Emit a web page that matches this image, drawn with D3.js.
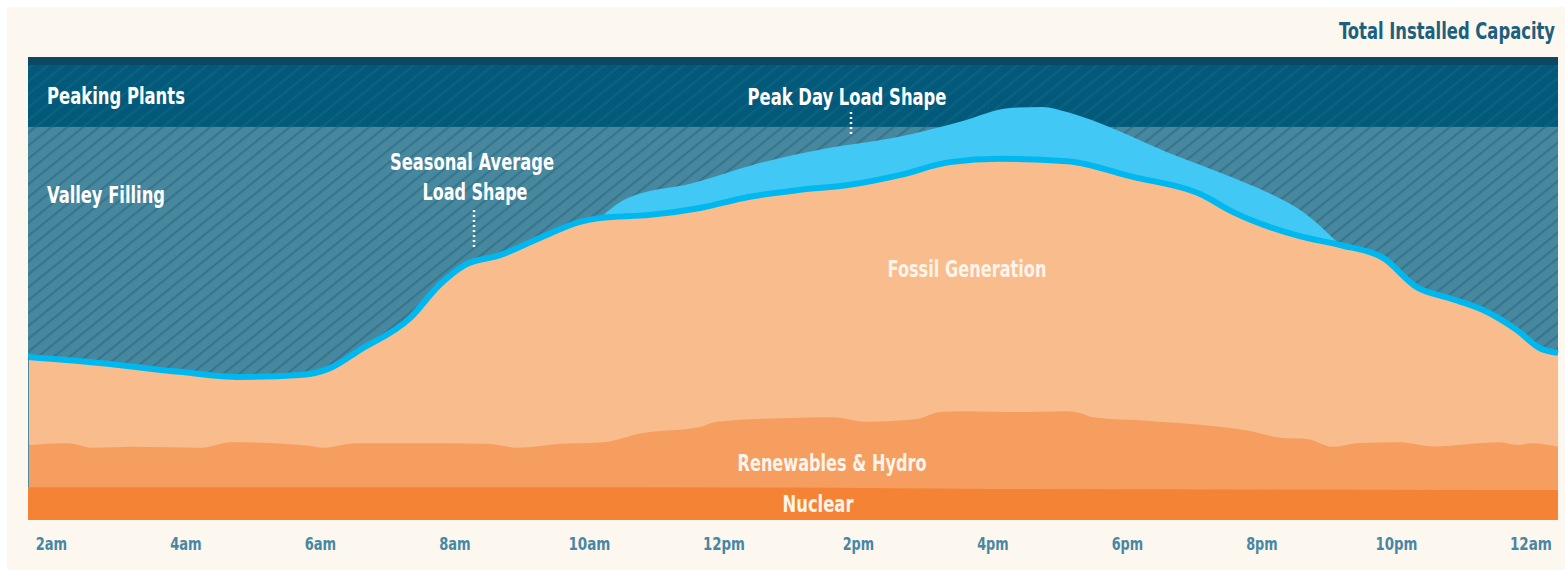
<head>
    <meta charset="utf-8">
    <title>load shape</title>
    <script src="https://d3js.org/d3.v7.min.js"></script>
    <style>
        body { margin: 0; background: #ffffff; }
        text { font-family: "Liberation Sans Narrow", "DejaVu Sans Condensed", "Roboto", sans-serif; font-weight: bold; }
    </style>
</head>

<body>
    <svg width="1565" height="570"></svg>
    <script>
        // values (capacity in % of total installed, hours of day)
        var totalCapacity = 100;
        var peakingLevel = 84.9;

        var seasonalHours = [1.66, 2.73, 3.92, 4.81, 5.70, 6.15, 6.59, 7.34, 7.78, 8.16, 8.68, 9.27, 9.87, 10.16, 10.91, 11.65, 12.39, 13.14, 13.88, 14.62, 15.37, 16.11, 17.11, 18.09, 19.09, 19.58, 20.57, 21.17, 21.81, 22.31, 22.80, 23.29, 23.80, 24.14, 24.41];
        var seasonalLoad = [35.2, 33.9, 32.0, 30.9, 31.3, 32.8, 36.7, 43.6, 50.8, 55.1, 57.2, 60.9, 64.4, 65.2, 65.9, 67.4, 69.8, 71.3, 72.4, 74.5, 77.3, 78.0, 77.5, 74.1, 70.4, 66.5, 61.3, 59.4, 56.6, 50.3, 47.9, 45.4, 41.0, 37.1, 36.1];

        var peakHours = [10.16, 10.57, 11.55, 12.54, 13.54, 14.52, 15.52, 16.26, 16.75, 17.11, 17.60, 18.59, 19.58, 20.32, 20.57, 21.17];
        var peakLoad = [65.2, 69.5, 72.8, 77.1, 80.3, 82.5, 86.0, 89.0, 89.2, 88.1, 85.7, 79.5, 73.9, 69.1, 67.0, 59.4];

        var renewHours = [1.66, 2.24, 2.64, 3.23, 4.23, 4.69, 5.88, 6.01, 6.55, 7.87, 8.54, 8.94, 9.54, 10.21, 10.80, 11.65, 11.90, 12.88, 13.63, 14.13, 14.88, 15.22, 15.62, 16.36, 17.11, 17.30, 17.49, 18.34, 19.83, 20.32, 20.68, 21.06, 21.42, 22.06, 22.55, 23.55, 23.80, 24.04, 24.41];
        var renewTop = [16.2, 16.6, 15.6, 15.8, 15.6, 16.8, 16.0, 15.6, 16.6, 16.6, 16.4, 15.6, 16.4, 16.8, 18.8, 20.1, 21.2, 22.0, 22.2, 21.2, 21.8, 23.3, 23.5, 23.3, 23.5, 23.1, 22.2, 21.4, 19.2, 17.7, 17.5, 15.8, 16.6, 16.8, 15.9, 16.8, 16.2, 16.6, 15.8];

        var nuclearHours = [1.66, 13.0, 16.0, 24.41];
        var nuclearTop = [7.1, 7.0, 6.7, 6.5];

        var tickHours = [2, 4, 6, 8, 10, 12, 14, 16, 18, 20, 22, 24];
        var tickLabels = ["2am", "4am", "6am", "8am", "10am", "12pm", "2pm", "4pm", "6pm", "8pm", "10pm", "12am"];

        var svg = d3.select("svg");
        svg.append("rect").attr("x", 7).attr("y", 7).attr("width", 1558).attr("height", 563).attr("fill", "#fcf7ef");

        var x = d3.scaleLinear().domain([1.66, 24.41]).range([28, 1558]);
        var y = d3.scaleLinear().domain([0, totalCapacity]).range([520, 57]);

        function pts(hs, vs) {
            return hs.map(function (h, i) { return [h, vs[i]]; });
        }

        var defs = svg.append("defs");
        function hatch(id, bg, fg) {
            var p = defs.append("pattern").attr("id", id)
                .attr("patternUnits", "userSpaceOnUse")
                .attr("width", 10).attr("height", 10)
                .attr("patternTransform", "rotate(-39)");
            p.append("rect").attr("width", 10).attr("height", 10).attr("fill", bg);
            p.append("rect").attr("y", 0).attr("width", 10).attr("height", 2.2).attr("fill", fg);
        }
        hatch("valley", "#47889f", "#36758d");
        hatch("peaking", "#03597a", "#0a6282");

        var x0 = x.range()[0], x1 = x.range()[1];

        // valley filling (everything up to total capacity)
        svg.append("rect").attr("x", x0).attr("y", y(totalCapacity))
            .attr("width", x1 - x0).attr("height", y(0) - y(totalCapacity))
            .attr("fill", "url(#valley)");
        // peaking plants band
        svg.append("rect").attr("x", x0).attr("y", y(totalCapacity))
            .attr("width", x1 - x0).attr("height", y(peakingLevel) - y(totalCapacity))
            .attr("fill", "url(#peaking)");
        svg.append("rect").attr("x", x0).attr("y", y(totalCapacity))
            .attr("width", x1 - x0).attr("height", 8)
            .attr("fill", "#0b4862");

        var area = d3.area()
            .x(function (d) { return x(d[0]); })
            .y0(y(0))
            .y1(function (d) { return y(d[1]); })
            .curve(d3.curveMonotoneX);
        var line = d3.line()
            .x(function (d) { return x(d[0]); })
            .y(function (d) { return y(d[1]); })
            .curve(d3.curveMonotoneX);

        svg.append("path").attr("d", area(pts(peakHours, peakLoad))).attr("fill", "#41c8f5");
        svg.append("path").attr("d", area(pts(seasonalHours, seasonalLoad))).attr("fill", "#f9bc8c");
        svg.append("path").attr("d", line(pts(seasonalHours, seasonalLoad)))
            .attr("fill", "none").attr("stroke", "#00b8f0").attr("stroke-width", 6);
        svg.append("path").attr("d", area(pts(renewHours, renewTop))).attr("fill", "#f69e60");
        svg.append("path").attr("d", area(pts(nuclearHours, nuclearTop))).attr("fill", "#f48336");
        // thin edge on the left side
        svg.append("line").attr("x1", x0 + 0.5).attr("x2", x0 + 0.5).attr("y1", y(35.2)).attr("y2", y(nuclearTop[0]))
            .attr("stroke", "#4e8aa2").attr("stroke-width", 1);

        // labels, squeezed horizontally to the condensed face of the original
        function label(t, lx, ly, anchor, w, color) {
            var el = svg.append("text").attr("text-anchor", anchor)
                .attr("font-size", 23).attr("fill", color).text(t);
            var s = w / el.node().getComputedTextLength();
            el.attr("transform", "translate(" + lx + "," + ly + ") scale(" + s + ",1)");
        }
        label("Total Installed Capacity", 1555, 39, "end", 216, "#1d5f7e");
        label("Peaking Plants", 47, 104, "start", 138, "#ffffff");
        label("Valley Filling", 47, 203, "start", 118, "#ffffff");
        label("Seasonal Average", 472, 170, "middle", 164, "#ffffff");
        label("Load Shape", 475, 200, "middle", 105, "#ffffff");
        label("Peak Day Load Shape", 847, 105, "middle", 199, "#ffffff");
        label("Fossil Generation", 967, 277, "middle", 159, "#fff4ea");
        label("Renewables & Hydro", 832, 471, "middle", 189, "#fff4ea");
        label("Nuclear", 818, 512, "middle", 71, "#fff4ea");

        svg.append("line").attr("x1", 474).attr("x2", 474).attr("y1", 210).attr("y2", 250)
            .attr("stroke", "#ffffff").attr("stroke-width", 2.5).attr("stroke-dasharray", "2,3");
        svg.append("line").attr("x1", 851).attr("x2", 851).attr("y1", 112).attr("y2", 134)
            .attr("stroke", "#ffffff").attr("stroke-width", 2.5).attr("stroke-dasharray", "2,3");

        // x axis
        var axis = d3.axisBottom(x).tickValues(tickHours)
            .tickFormat(function (d, i) { return tickLabels[i]; })
            .tickSize(0).tickPadding(0);
        var ax = svg.append("g").attr("transform", "translate(0,537)").call(axis);
        ax.select(".domain").remove();
        ax.selectAll("text").attr("font-size", 18).attr("fill", "#4886a3")
            .attr("font-family", null).attr("dy", "0.71em")
            .attr("textLength", function (d, i) { return tickLabels[i].length * 10.5; })
            .attr("lengthAdjust", "spacingAndGlyphs");
    </script>

</body>
